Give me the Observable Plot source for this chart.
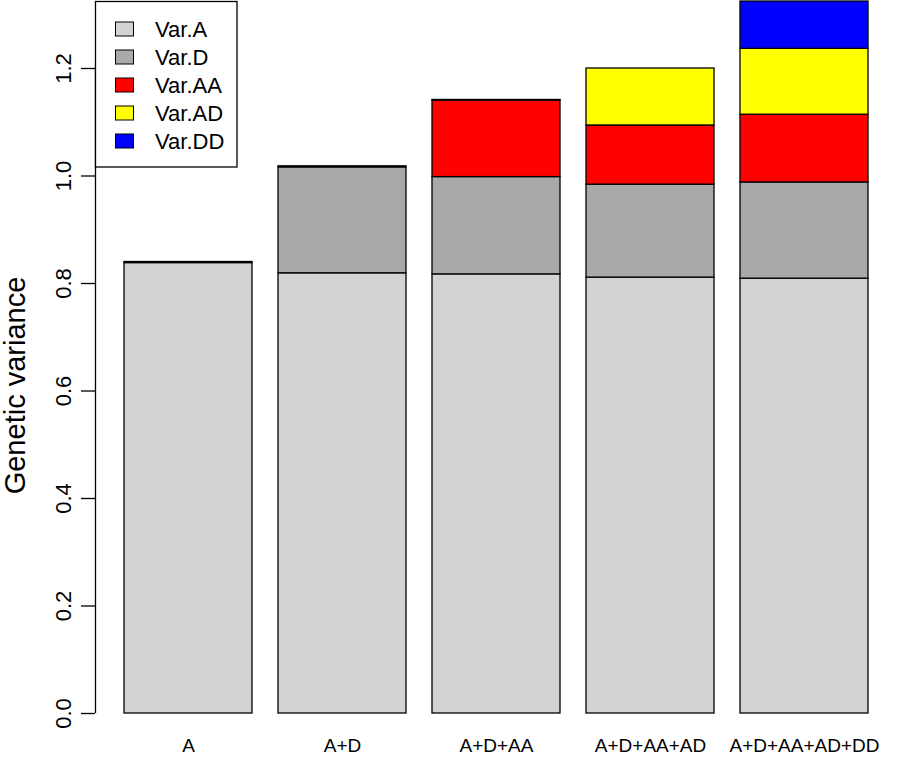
<!DOCTYPE html>
<html>
<head>
<meta charset="utf-8">
<script src="https://cdn.jsdelivr.net/npm/d3@7"></script>
<script src="https://cdn.jsdelivr.net/npm/@observablehq/plot@0.6"></script>
<style>
  html, body { margin: 0; padding: 0; background: #fff; }
  svg { font-family: "Liberation Sans", Arial, Helvetica, sans-serif; }
</style>
</head>
<body>
<div id="chart"></div>
<script>
const models = ["A", "A+D", "A+D+AA", "A+D+AA+AD", "A+D+AA+AD+DD"];
const components = ["Var.A", "Var.D", "Var.AA", "Var.AD", "Var.DD"];
const colors = ["#D3D3D3", "#A9A9A9", "#FF0000", "#FFFF00", "#0000FF"];
const varA  = [0.838, 0.819, 0.817, 0.811, 0.809];
const varD  = [0.002, 0.197, 0.181, 0.173, 0.179];
const varAA = [0.000, 0.002, 0.1425, 0.110, 0.126];
const varAD = [0.000, 0.000, 0.001, 0.106, 0.1226];
const varDD = [0.000, 0.000, 0.000, 0.000, 0.088];
const yTicks = [0, 0.2, 0.4, 0.6, 0.8, 1.0, 1.2];
const yLabel = "Genetic variance";

const series = [varA, varD, varAA, varAD, varDD];
const data = [];
components.forEach((c, ci) => {
  models.forEach((m, mi) => {
    data.push({model: m, component: c, value: series[ci][mi]});
  });
});

const W = 898, H = 757;
const plot = Plot.plot({
  width: W,
  height: H,
  marginLeft: 95,
  marginRight: 0,
  marginTop: 57,
  marginBottom: 44,
  style: {fontFamily: "Liberation Sans, Arial, sans-serif", background: "#fff", color: "#000"},
  x: {domain: models, paddingInner: 0.2 / 1.2, paddingOuter: 0.189, align: 0.5, label: null},
  y: {domain: [0, 1.2], range: [713, 68], label: null},
  color: {domain: components, range: colors},
  marks: [
    Plot.barY(data, {x: "model", y: "value", fill: "component", stroke: "black", strokeWidth: 1.3}),
    Plot.axisY({ticks: yTicks, tickSize: 14, tickFormat: () => "", label: null, strokeWidth: 1.3}),
    Plot.text(yTicks, {y: d => d, text: d => d.toFixed(1), frameAnchor: "left", textAnchor: "middle", rotate: -90, dx: -32, fontSize: 22, fill: "black"}),
    Plot.axisX({tickSize: 0, tickPadding: 25, fontSize: 19, label: null}),
    Plot.text([yLabel], {text: d => d, frameAnchor: "left", textAnchor: "middle", rotate: -90, dx: -80, fontSize: 29, fill: "black"})
  ]
});
document.getElementById("chart").appendChild(plot);

// R-style axis line spanning the tick range, drawn with Plot's y scale
const ys = plot.scale("y");
const svg = d3.select(plot);
svg.append("line")
  .attr("x1", 95.5).attr("x2", 95.5)
  .attr("y1", ys.apply(yTicks[0])).attr("y2", ys.apply(yTicks[yTicks.length - 1]))
  .attr("stroke", "black").attr("stroke-width", 1.3);

// Legend (top-left box)
const lg = svg.append("g").attr("font-size", 22).attr("text-anchor", "start")
  .attr("font-family", "Liberation Sans, Arial, sans-serif");
lg.append("rect").attr("x", 95.5).attr("y", 1.5).attr("width", 141.5).attr("height", 165.5)
  .attr("fill", "white").attr("stroke", "black").attr("stroke-width", 1.3);
components.forEach((c, i) => {
  const cy = 29 + i * 28;
  lg.append("rect").attr("x", 115.5).attr("y", cy - 7).attr("width", 18).attr("height", 14)
    .attr("fill", colors[i]).attr("stroke", "black").attr("stroke-width", 1);
  lg.append("text").attr("x", 155).attr("y", cy).attr("dy", "0.35em")
    .attr("text-anchor", "start").attr("fill", "black").text(c);
});
</script>
</body>
</html>
